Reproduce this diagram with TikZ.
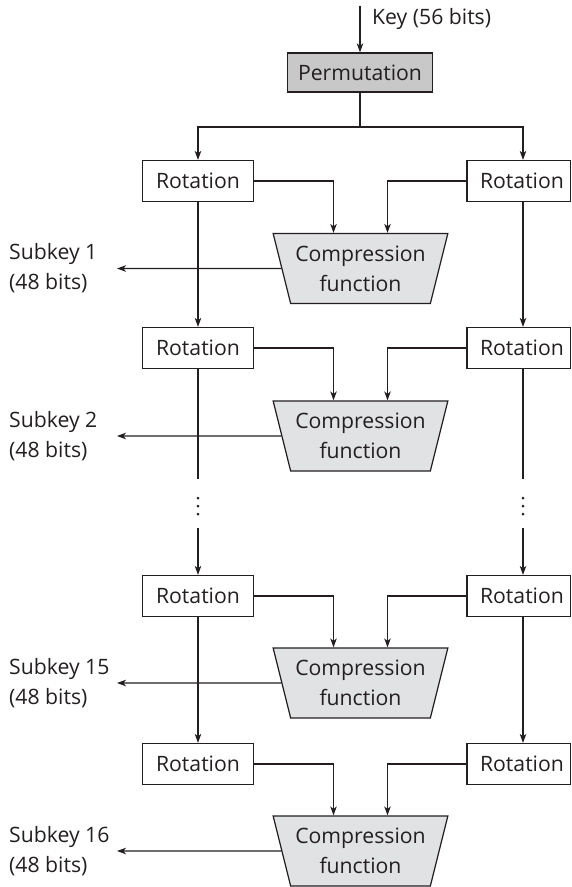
\documentclass[tikz,border=0pt]{standalone}
\usepackage{fontspec}
\setmainfont{Open Sans}
\usetikzlibrary{arrows.meta,shapes.geometric,calc}
\definecolor{ink}{HTML}{231F20}
\definecolor{permfill}{HTML}{C8C8C8}
\definecolor{compfill}{HTML}{E1E2E4}

\tikzset{
  base/.style={font=\fontsize{21.2}{30}\selectfont, text=ink},
  box/.style={base, draw=ink, line width=1.2pt, minimum height=41pt, inner sep=0pt},
  rotbox/.style={box, minimum width=111pt},
  permbox/.style={box, fill=permfill, minimum width=145pt, minimum height=39pt},
  compbox/.style={base, draw=ink, line width=1.2pt, fill=compfill, trapezium,
    trapezium left angle=109.65, trapezium right angle=109.65, trapezium stretches=true,
    minimum width=175pt, minimum height=70pt, inner sep=0pt, align=center},
  wire/.style={draw=ink, line width=1.2pt},
  arr/.style={wire, -{Stealth[length=9pt,width=6.5pt,inset=2.5pt]}},
  sublabel/.style={base, anchor=west, align=left, inner sep=0pt},
  dot/.style={fill=ink, circle, inner sep=0pt, minimum size=3pt}
}

\begin{document}
\begin{tikzpicture}[x=1pt,y=-1pt]
\useasboundingbox (0,0) rectangle (572,887);

% key input and initial permutation
\coordinate (keyin) at (360,6);
\node[permbox] (perm) at (360,72.5) {Permutation};
\node[base, anchor=west, inner sep=0pt] (keylab) at (372,19) {Key (56 bits)};
\draw[arr] (keyin) -- (perm.north);

\coordinate (splitL) at (198,127);
\coordinate (splitR) at (523,127);

% one round per row: two rotations feeding a compression function
\foreach \i/\ry/\cy/\k in {1/181/268.5/1, 2/348/436/2, 3/596/683/15, 4/764/851/16} {
  \node[rotbox] (rotL\i) at (198,\ry) {Rotation};
  \node[rotbox, minimum width=103.5pt] (rotR\i) at (518.75,\ry) {\hspace*{6.5pt}Rotation};
  \node[compbox] (comp\i) at (360.5,\cy) {Compression\\function};
  \node[sublabel] (sub\i) at (9,\cy) {Subkey \k\\(48 bits)};
  \draw[arr] (rotL\i.east) -| ($(comp\i.north)+(-27,0)$);
  \draw[arr] (rotR\i.west) -| ($(comp\i.north)+(27,0)$);
  \draw[arr] (comp\i.180) -- ([xshift=108pt]sub\i.west);
}

% split of the permuted key into the two halves
\draw[wire] (perm.south) -- (perm.south |- splitL);
\draw[arr] (perm.south |- splitL) -- (splitL) -- (rotL1.north);
\draw[arr] (perm.south |- splitR) -- (splitR) -- (rotR1.north -| splitR);

% left half chain
\draw[arr] (rotL1.south) -- (rotL2.north);
\coordinate (gapLa) at (198,479);
\coordinate (gapLb) at (198,528);
\draw[wire] (rotL2.south) -- (gapLa);
\node[dot] (dL1) at (198,498) {};
\node[dot] (dL2) at (198,506) {};
\node[dot] (dL3) at (198,514) {};
\draw[arr] (gapLb) -- (rotL3.north);
\draw[arr] (rotL3.south) -- (rotL4.north);

% right half chain
\draw[arr] (rotR1.south -| splitR) -- (rotR2.north -| splitR);
\coordinate (gapRa) at (523,479);
\coordinate (gapRb) at (523,528);
\draw[wire] (rotR2.south -| splitR) -- (gapRa);
\node[dot] (dR1) at (523,498) {};
\node[dot] (dR2) at (523,506) {};
\node[dot] (dR3) at (523,514) {};
\draw[arr] (gapRb) -- (rotR3.north -| splitR);
\draw[arr] (rotR3.south -| splitR) -- (rotR4.north -| splitR);
\end{tikzpicture}
\end{document}
